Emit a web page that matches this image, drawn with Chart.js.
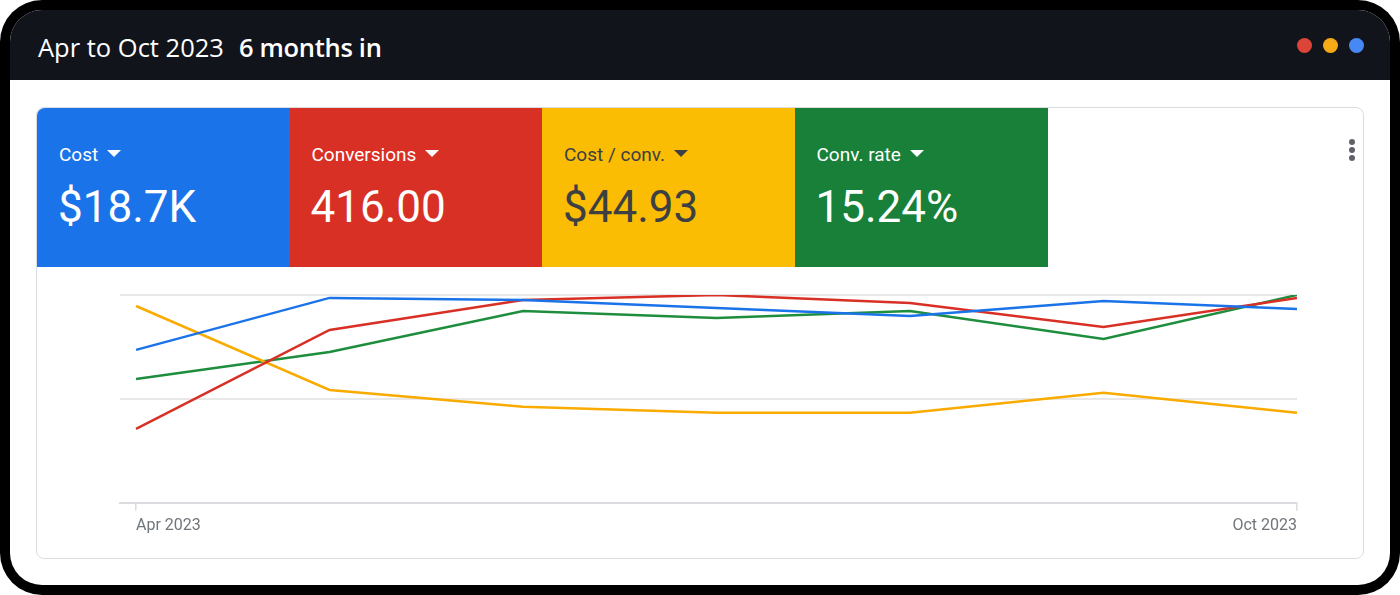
<!DOCTYPE html>
<html>
<head>
<meta charset="utf-8">
<script src="https://cdn.jsdelivr.net/npm/chart.js@4.4.0/dist/chart.umd.min.js"></script>
<style>
    html, body {
        margin: 0;
        padding: 0;
        background: #fff;
        width: 1400px;
        height: 595px;
        overflow: hidden;
    }
    .frame {
        position: absolute;
        left: 0; top: 0;
        width: 1400px; height: 595px;
        background: #000;
        border-radius: 42px;
    }
    .inner {
        position: absolute;
        left: 10px; top: 10px;
        width: 1380px; height: 575px;
        background: #fff;
        border-radius: 32px;
        overflow: hidden;
    }
    .header {
        position: absolute;
        left: 0; top: 0;
        width: 1380px; height: 70px;
        background: #12141c;
    }
    .title {
        position: absolute;
        left: 28px; top: 20px;
        font-family: "Open Sans", sans-serif;
        font-size: 25.5px;
        line-height: 34px;
        color: #fff;
        white-space: nowrap;
    }
    .title b {
        font-weight: 600;
        margin-left: 15px;
        letter-spacing: -0.3px;
    }
    .dot {
        position: absolute;
        top: 28px;
        width: 15px; height: 15px;
        border-radius: 50%;
    }
    .card {
        position: absolute;
        left: 36px; top: 107px;
        width: 1328px; height: 452px;
        box-sizing: border-box;
        border: 1px solid #dadce0;
        border-radius: 8px;
        background: #fff;
    }
    .tile {
        position: absolute;
        top: 108px;
        height: 159px;
        font-family: Roboto, sans-serif;
        color: #fff;
    }
    .tile .label {
        position: absolute;
        left: 22px; top: 34px;
        font-size: 19px;
        line-height: 26px;
        white-space: nowrap;
    }
    .tile .caret {
        display: inline-block;
        width: 0; height: 0;
        margin-left: 9px;
        vertical-align: middle;
        border-left: 7px solid transparent;
        border-right: 7px solid transparent;
        border-top: 7px solid currentColor;
        position: relative;
        top: -2px;
    }
    .tile .value {
        position: absolute;
        left: 21px; top: 71px;
        font-size: 44px;
        line-height: 56px;
        white-space: nowrap;
    }
    .menu {
        position: absolute;
        left: 1349px;
        width: 6px; height: 6px;
        border-radius: 50%;
        background: #5f6368;
    }
    .chart-box {
        position: absolute;
        left: 38px; top: 268px;
        width: 1325px; height: 289px;
    }
</style>
</head>
<body>
<div class="frame"></div>
<div class="inner">
    <div class="header">
        <div class="title">Apr to Oct 2023<b>6 months in</b></div>
        <div class="dot" style="left:1287px;background:#db4437"></div>
        <div class="dot" style="left:1313px;background:#f6aa15"></div>
        <div class="dot" style="left:1339px;background:#4688f4"></div>
    </div>
</div>
<div class="card"></div>
<div id="tiles"></div>
<div class="menu" style="top:139px"></div>
<div class="menu" style="top:147px"></div>
<div class="menu" style="top:155px"></div>
<div class="chart-box"><canvas id="perfChart"></canvas></div>

<script>
// Chart data (relative index per metric, 0 - 100)
const months = ['Apr', 'May', 'Jun', 'Jul', 'Aug', 'Sep', 'Oct'];
const costSeries = [73.6, 98.6, 97.6, 93.8, 89.9, 97.1, 93.3];
const conversionsSeries = [35.6, 83.2, 97.6, 100, 96.2, 84.6, 98.6];
const costPerConvSeries = [94.7, 54.3, 46.2, 43.3, 43.3, 52.9, 43.3];
const convRateSeries = [59.6, 72.6, 92.3, 88.9, 92.3, 78.8, 100];
const xTickLabels = ['Apr 2023', 'Oct 2023'];

// Scorecard tiles
const tileLabels = ['Cost', 'Conversions', 'Cost / conv.', 'Conv. rate'];
const tileValues = ['$18.7K', '416.00', '$44.93', '15.24%'];
const tileColors = ['#1a73e8', '#d93025', '#fbbc04', '#188038'];
const tileText = ['#fff', '#fff', '#3c4043', '#fff'];
const lineColors = ['#1a73e8', '#d93025', '#f9ab00', '#1e8e3e'];

// Build tiles
const tilesEl = document.getElementById('tiles');
tileLabels.forEach((label, i) => {
    const div = document.createElement('div');
    div.className = 'tile';
    div.style.left = (37 + i * 252.5) + 'px';
    div.style.width = '253px';
    div.style.background = tileColors[i];
    div.style.color = tileText[i];
    if (i === 0) div.style.borderTopLeftRadius = '8px';
    div.innerHTML = `
        <div class="label">${label}<span class="caret"></span></div>
        <div class="value">${tileValues[i]}</div>
    `;
    tilesEl.appendChild(div);
});

function toPoints(series) {
    return series.map((v, i) => ({ x: i, y: v }));
}

const seriesList = [costSeries, conversionsSeries, costPerConvSeries, convRateSeries];

const ctx = document.getElementById('perfChart').getContext('2d');
const perfChart = new Chart(ctx, {
    type: 'line',
    data: {
        datasets: seriesList.map((s, i) => ({
            label: tileLabels[i],
            data: toPoints(s),
            borderColor: lineColors[i],
            borderWidth: 2.5,
            pointRadius: 0,
            tension: 0,
            fill: false
        }))
    },
    options: {
        responsive: true,
        maintainAspectRatio: false,
        animation: false,
        layout: {
            padding: { left: 82, right: 66, top: 27, bottom: 15 }
        },
        plugins: {
            legend: { display: false },
            tooltip: { enabled: false }
        },
        scales: {
            x: {
                type: 'linear',
                min: -0.083,
                max: months.length - 1,
                afterBuildTicks: (scale) => {
                    scale.ticks = [{ value: 0 }, { value: months.length - 1 }];
                },
                ticks: {
                    align: 'inner',
                    padding: 6,
                    color: '#70757a',
                    font: { family: 'Roboto', size: 16 },
                    callback: (value) => value === 0 ? xTickLabels[0] : xTickLabels[1]
                },
                grid: {
                    drawOnChartArea: false,
                    drawTicks: true,
                    tickLength: 8,
                    color: '#dadce0',
                    lineWidth: 1.5
                },
                border: { display: true, color: '#dadce0', width: 2 }
            },
            y: {
                min: 0,
                max: 100,
                ticks: { display: false, stepSize: 50 },
                grid: {
                    drawTicks: false,
                    color: '#e8e8e8',
                    lineWidth: 2
                },
                border: { display: false }
            }
        }
    }
});
</script>
</body>
</html>
